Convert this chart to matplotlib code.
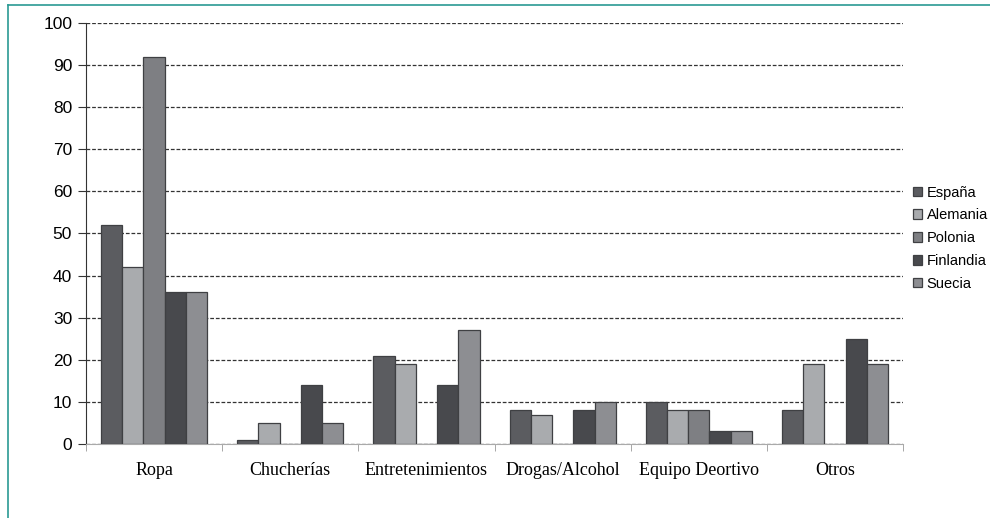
import matplotlib
matplotlib.use("Agg")
import matplotlib.pyplot as plt
from matplotlib.lines import Line2D
import numpy as np

categories = ["Ropa", "Chucherías", "Entretenimientos", "Drogas/Alcohol",
              "Equipo Deortivo", "Otros"]
countries = ["España", "Alemania", "Polonia", "Finlandia", "Suecia"]
espana = [52, 1, 21, 8, 10, 8]
alemania = [42, 5, 19, 7, 8, 19]
polonia = [92, 0, 0, 0, 8, 0]
finlandia = [36, 14, 14, 8, 3, 25]
suecia = [36, 5, 27, 10, 3, 19]
series = [espana, alemania, polonia, finlandia, suecia]
colors = ["#5b5c60", "#a9abae", "#7e7f83", "#48494d", "#8d8e92"]

fig = plt.figure(figsize=(9.9, 5.18), dpi=100)
ax = fig.add_axes([0.0869, 0.1429, 0.8253, 0.8127])

x = np.arange(len(categories))
width = 0.156
for i, (vals, name, col) in enumerate(zip(series, countries, colors)):
    offs = (i - 2) * width
    ax.bar(x + offs, vals, width, color=col, edgecolor="#3f4043",
           linewidth=0.9, label=name, zorder=3)

ax.set_xlim(-0.5, len(categories) - 0.5)
ax.set_ylim(0, 100)
ax.set_yticks(range(0, 101, 10))
ax.set_yticklabels([str(v) for v in range(0, 101, 10)],
                   fontfamily="Liberation Sans", fontsize=12.5)
ax.yaxis.grid(True, linestyle=(0, (3, 1.5)), color="#333333", linewidth=0.9)
ax.set_axisbelow(True)

# category labels centred, ticks on boundaries
ax.set_xticks(x)
ax.set_xticklabels(categories, fontfamily="Liberation Serif", fontsize=13)
ax.tick_params(axis="x", length=0, pad=13)
ax.set_xticks(np.arange(-0.5, len(categories)), minor=True)
ax.tick_params(axis="x", which="minor", length=5, color="#999999")
ax.tick_params(axis="y", length=6, color="#333333", pad=4)

for s in ["top", "right"]:
    ax.spines[s].set_visible(False)
ax.spines["left"].set_color("#333333")
ax.spines["bottom"].set_color("#aaaaaa")

leg = ax.legend(loc="center left", bbox_to_anchor=(1.012, 0.489),
                frameon=False,
                prop={"family": "Liberation Sans", "size": 10.5},
                handlelength=0.65, handleheight=0.65, handletextpad=0.3,
                labelspacing=0.6, borderpad=0, borderaxespad=0)

# teal frame
teal = "#2a9a94"
fig.add_artist(Line2D([8 / 990, 1], [1 - 5 / 518, 1 - 5 / 518],
                      transform=fig.transFigure, color=teal, linewidth=1.2))
fig.add_artist(Line2D([8 / 990, 8 / 990], [0, 1 - 5 / 518],
                      transform=fig.transFigure, color=teal, linewidth=1.2))

fig.savefig("out.png", dpi=100)
